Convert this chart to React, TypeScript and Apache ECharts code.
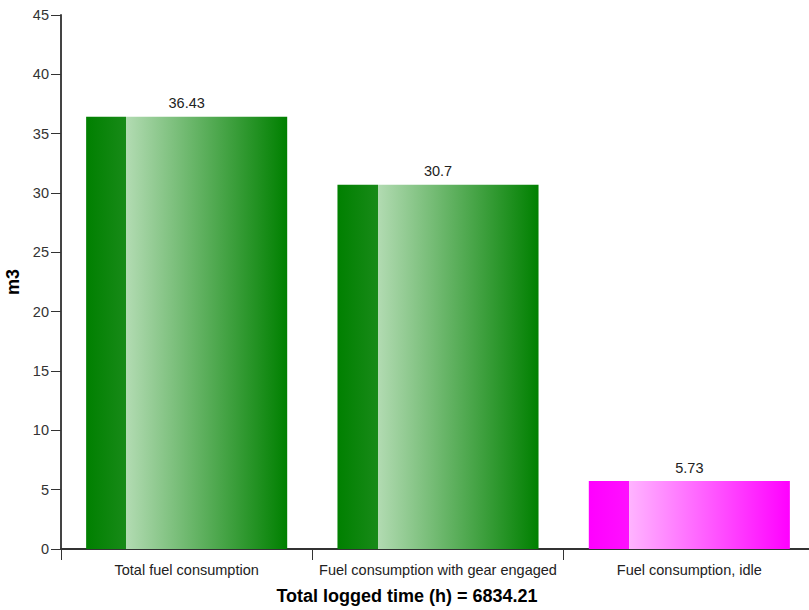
import React, { useEffect, useRef } from "react";
import * as echarts from "echarts";

const categories = ["Total fuel consumption", "Fuel consumption with gear engaged", "Fuel consumption, idle"];
const values = [36.43, 30.7, 5.73];
const colorsDark = ["#008000", "#008000", "#ff00ff"];
const colorsMid = ["#188a18", "#188a18", "#ff10ff"];
const colorsLight = ["#b2dbb2", "#b2dbb2", "#ffb4ff"];
const yTicks = { min: 0, max: 45, interval: 5 };
const xTitle = "Total logged time (h) = 6834.21";
const yTitle = "m3";

export default function App() {
  const ref = useRef<HTMLDivElement>(null);
  useEffect(() => {
    const chart = echarts.init(ref.current!, null, { renderer: "svg" });
    const font = "Arial, 'Liberation Sans', sans-serif";
    chart.setOption({
      animation: false,
      grid: { left: 61, top: 15, width: 754, height: 534, containLabel: false, outerBoundsMode: "none" },
      xAxis: {
        type: "category",
        data: categories,
        name: xTitle,
        nameLocation: "middle",
        nameGap: 38,
        nameTextStyle: { fontFamily: font, fontSize: 18, fontWeight: "bold", color: "#000", padding: [0, 62, 0, 0] },
        axisLine: { lineStyle: { color: "#333", width: 2 } },
        axisTick: { show: true, length: 11, lineStyle: { color: "#333" } },
        axisLabel: { fontFamily: font, fontSize: 14.5, color: "#222", margin: 13, interval: 0 },
      },
      yAxis: {
        type: "value",
        min: yTicks.min,
        max: yTicks.max,
        interval: yTicks.interval,
        name: yTitle,
        nameLocation: "middle",
        nameGap: 33,
        nameTextStyle: { fontFamily: font, fontSize: 18, fontWeight: "bold", color: "#000" },
        axisLine: { show: true, lineStyle: { color: "#444", width: 2 } },
        axisTick: { show: true, length: 10, lineStyle: { color: "#333" } },
        axisLabel: { fontFamily: font, fontSize: 14.5, color: "#333", margin: 12 },
        splitLine: { show: false },
      },
      series: [
        {
          type: "bar",
          barWidth: "80%",
          data: values.map((v, i) => ({
            value: v,
            itemStyle: {
              color: new echarts.graphic.LinearGradient(0, 0, 1, 0, [
                { offset: 0, color: colorsDark[i] },
                { offset: 0.2, color: colorsMid[i] },
                { offset: 0.2, color: colorsLight[i] },
                { offset: 1, color: colorsDark[i] },
              ]),
            },
          })),
          label: {
            show: true,
            position: "top",
            distance: 6,
            fontFamily: font,
            fontSize: 14.5,
            color: "#222",
          },
        },
      ],
    });
    return () => chart.dispose();
  }, []);
  return <div ref={ref} style={{ position: "absolute", left: 0, top: 0, width: 809, height: 610 }} />;
}
